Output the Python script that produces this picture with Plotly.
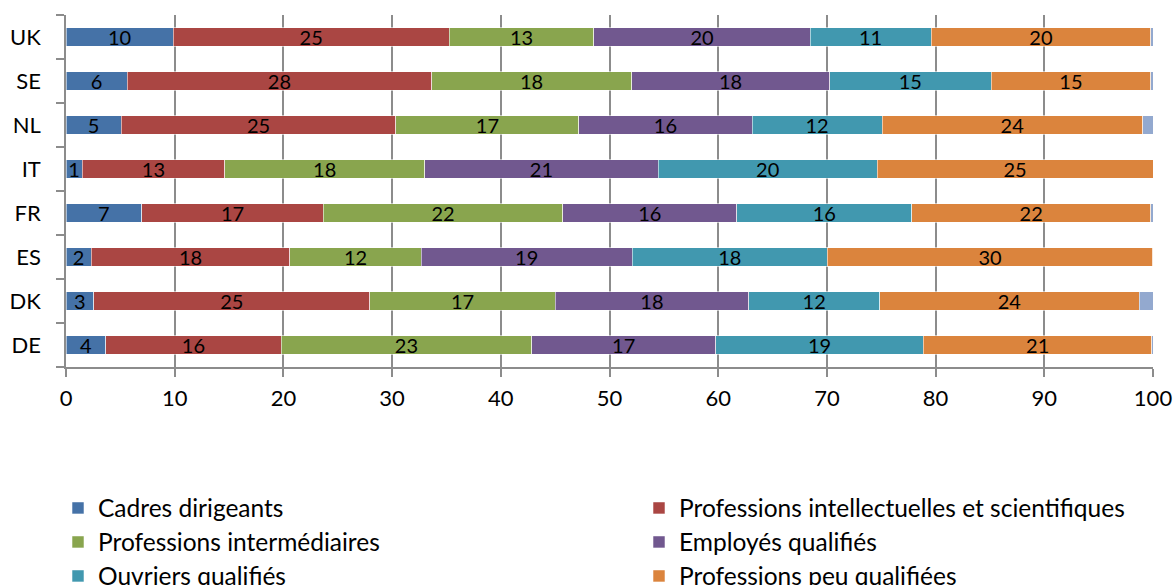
import plotly.graph_objects as go

countries = ["DE", "DK", "ES", "FR", "IT", "NL", "SE", "UK"]

cadres = [3.66, 2.54, 2.32, 6.97, 1.48, 5.07, 5.63, 9.86]
intellectuelles = [16.13, 25.42, 18.28, 16.69, 13.13, 25.28, 28.00, 25.39]
intermediaires = [23.06, 17.04, 12.08, 22.04, 18.38, 16.83, 18.40, 13.32]
employes = [16.91, 17.80, 19.40, 16.01, 21.49, 15.93, 18.21, 19.89]
ouvriers = [19.12, 12.06, 17.97, 16.09, 20.14, 11.96, 14.86, 11.12]
peu_qualifiees = [21.02, 23.88, 29.93, 21.99, 25.38, 23.99, 14.69, 20.21]
autres = [0.10, 1.26, 0.00, 0.21, 0.00, 0.94, 0.21, 0.21]

series_names = [
    "Cadres dirigeants",
    "Professions intellectuelles et scientifiques",
    "Professions intermédiaires",
    "Employés qualifiés",
    "Ouvriers qualifiés",
    "Professions peu qualifiées",
    "Autres",
]
series_values = [cadres, intellectuelles, intermediaires, employes, ouvriers, peu_qualifiees, autres]
colors = ["#4572A7", "#AA4643", "#89A54E", "#71588F", "#4198AF", "#DB843D", "#93A9CF"]

FONT = "Lato"
W, H = 1176, 585
PX0, PX1, PY0, PY1 = 66, 1153, 15, 367
L, R, T, B = PX0, W - PX1, PY0, H - PY1

def px_x(p):
    return (p - PX0) / (PX1 - PX0)

def px_y(p):
    return (PY1 - p) / (PY1 - PY0)

# legend layout: (column text-left pixel, row center pixel) in window pixels
legend_pos = [(98, 508), (679, 508), (98, 542), (679, 542), (98, 576), (679, 576)]

fig = go.Figure()
for i, (name, vals, col) in enumerate(zip(series_names, series_values, colors)):
    is_last = i == len(series_names) - 1
    legend_id = "legend" if i == 0 else f"legend{i+1}"
    fig.add_trace(go.Bar(
        y=countries, x=vals, name=name, orientation="h",
        marker=dict(color=col, line=dict(color="rgba(255,255,255,0.55)", width=1)),
        texttemplate="" if is_last else "%{x:.0f}",
        textposition="inside", insidetextanchor="middle", textangle=0,
        textfont=dict(family=FONT, size=20, color="black"),
        showlegend=not is_last,
        legend=None if is_last else legend_id,
    ))

layout_legends = {}
for i, (lx, ly) in enumerate(legend_pos):
    key = "legend" if i == 0 else f"legend{i+1}"
    layout_legends[key] = dict(
        x=px_x(lx - 40), y=px_y(ly), xref="paper", yref="paper",
        xanchor="left", yanchor="middle", orientation="v",
        font=dict(family=FONT, size=24.5, color="black"),
        bgcolor="rgba(0,0,0,0)", borderwidth=0, itemwidth=30,
    )

fig.update_layout(
    width=W, height=H,
    barmode="stack", bargap=0.59,
    margin=dict(l=L, r=R, t=T, b=B, autoexpand=False),
    paper_bgcolor="white", plot_bgcolor="white",
    font=dict(family=FONT, size=21, color="black"),
    uniformtext=dict(minsize=20, mode="show"),
    xaxis=dict(
        range=[0, 100], dtick=10, tick0=0,
        showgrid=True, gridcolor="#8C8C8C", gridwidth=1.5,
        showline=True, linecolor="#8C8C8C", linewidth=1.5,
        ticks="outside", ticklen=8, tickcolor="#8C8C8C", tickwidth=1.5,
        tickfont=dict(family=FONT, size=22, color="black"),
        ticklabelstandoff=3,
        zeroline=False,
    ),
    yaxis=dict(
        type="category", categoryorder="array", categoryarray=countries,
        range=[-0.5, 7.5], tickson="boundaries",
        showgrid=False, showline=True, linecolor="#8C8C8C", linewidth=1.5,
        ticks="outside", ticklen=8, tickcolor="#8C8C8C", tickwidth=1.5,
        tickfont=dict(family=FONT, size=22, color="black"),
        ticklabelstandoff=19,
    ),
    **layout_legends,
)

fig.write_html(
    "out.html",
    config={"displayModeBar": False},
    post_script="document.body.style.margin='0';document.documentElement.style.overflow='hidden';",
)
